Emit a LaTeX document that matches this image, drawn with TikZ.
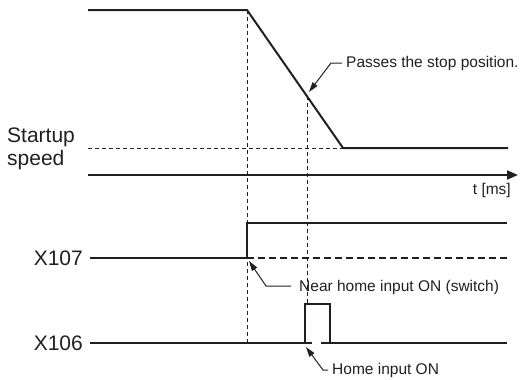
\documentclass[tikz,border=0pt]{standalone}
\usepackage{fontspec}
\setmainfont{Liberation Sans}
\usetikzlibrary{arrows.meta}
\definecolor{ink}{HTML}{231F20}
\begin{document}
\begin{tikzpicture}[x=1pt,y=-1pt,
  sig/.style={ink,line width=2pt, line join=miter},
  guide/.style={ink,line width=0.9pt, dash pattern=on 4pt off 3pt},
  ann/.style={ink,font=\fontsize{15.5}{18}\selectfont, inner sep=0pt, anchor=west},
  lbl/.style={ink,font=\fontsize{21}{23}\selectfont, inner sep=0pt},
  lead/.style={ink,line width=1pt, -{Triangle[length=10pt,width=6pt]}}]
\useasboundingbox (0,0) rectangle (522,380);
% speed curve
\coordinate (s0) at (88,10);
\coordinate (s1) at (247,10);
\coordinate (s2) at (343,148);
\coordinate (s3) at (508,148);
\coordinate (d0) at (88,148);
\coordinate (a0) at (88,175);
\coordinate (a1) at (518,175);
\coordinate (g1b) at (247,343);
\coordinate (g2t) at (307,96);
\coordinate (g2b) at (307,304);
% guides
\draw[guide] (d0) -- (s2);
\draw[guide] (s1) -- (g1b);
\draw[guide] (g2t) -- (g2b);
\draw[sig] (s0) -- (s1) -- (s2) -- (s3);
\draw[ink,line width=2pt,-{Triangle[length=11pt,width=9pt]}] (a0) -- (a1);
% X107
\coordinate (x7a) at (90,258);
\coordinate (x7b) at (247,258);
\coordinate (x7c) at (247,223);
\coordinate (x7d) at (507,223);
\coordinate (x7e) at (509,258);
\draw[ink,line width=1.8pt,dash pattern=on 7pt off 4pt] (x7b) -- (x7e);
\draw[sig] (x7a) -- (x7b) -- (x7c) -- (x7d);
% X106
\coordinate (x6a) at (90,343);
\coordinate (x6b) at (312,343);
\coordinate (p0) at (305,343);
\coordinate (p1) at (305,304);
\coordinate (p2) at (330,304);
\coordinate (p3) at (330,343);
\coordinate (x6c) at (321,343);
\coordinate (x6d) at (507,343);
\draw[sig] (x6a) -- (x6b);
\draw[sig] (x6c) -- (x6d);
\draw[sig] (p0) -- (p1) -- (p2) -- (p3);
% labels
\node[lbl,anchor=west,align=left] (su) at (7,149) {Startup\\speed};
\node[ann,anchor=east] (tms) at (511,190) {t [ms]};
\node[lbl,anchor=east] (l107) at (83,258) {X107};
\node[lbl,anchor=east] (l106) at (83,343) {X106};
\node[ann] (pass) at (346,63) {Passes the stop position.};
\node[ann] (near) at (299,287) {Near home input ON (switch)};
\node[ann] (home) at (332,370) {Home input ON};
% leaders
\coordinate (pk) at (331,63);
\coordinate (pt) at (309,92);
\coordinate (nk) at (266,286);
\coordinate (nt) at (249,261);
\coordinate (hk) at (323,370);
\coordinate (ht) at (306,347);
\draw[lead] ([xshift=-4pt]pass.west) -- (pk) -- (pt);
\draw[lead] ([xshift=-8pt]near.west |- nk) -- (nk) -- (nt);
\draw[lead] ([xshift=-4pt]home.west) -- (hk) -- (ht);
\end{tikzpicture}
\end{document}
